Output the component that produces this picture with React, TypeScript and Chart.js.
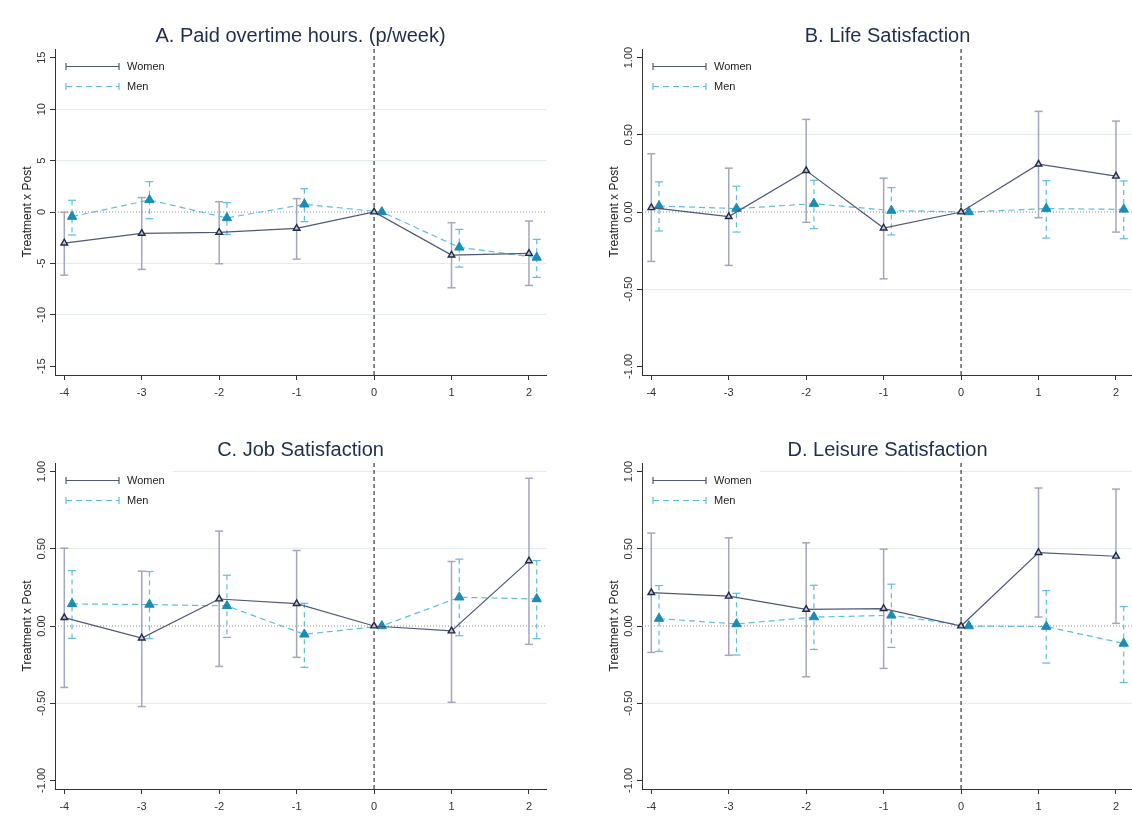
import React, { useEffect, useRef } from "react";
import { Chart, registerables } from "chart.js";

Chart.register(...registerables);

const FONT = '"Liberation Sans", Arial, Helvetica, sans-serif';

// ---- shared axis data ----
const periods = [-4, -3, -2, -1, 0, 1, 2];
const menOffset = 0.1;
const xMin = -4.12;
const xMax = 2.22;

const hoursTicks = [-15, -10, -5, 0, 5, 10, 15];
const satTicks = [-1, -0.5, 0, 0.5, 1];

// ---- Panel A: Paid overtime hours ----
const aWomenCoef = [-3.02, -2.08, -1.98, -1.59, 0, -4.19, -4.03];
const aWomenLo = [-6.14, -5.58, -5.03, -4.58, 0, -7.37, -7.14];
const aWomenHi = [-0.03, 1.4, 1.0, 1.3, 0, -1.04, -0.88];
const aMenCoef = [-0.45, 1.17, -0.58, 0.75, 0, -3.44, -4.42];
const aMenLo = [-2.24, -0.65, -2.18, -0.94, 0, -5.36, -6.36];
const aMenHi = [1.14, 2.95, 0.91, 2.27, 0, -1.69, -2.66];

// ---- Panel B: Life Satisfaction ----
const bWomenCoef = [0.028, -0.03, 0.268, -0.104, 0, 0.31, 0.232];
const bWomenLo = [-0.32, -0.346, -0.067, -0.433, 0, -0.037, -0.13];
const bWomenHi = [0.377, 0.284, 0.6, 0.219, 0, 0.652, 0.589];
const bMenCoef = [0.039, 0.022, 0.054, 0.009, 0, 0.022, 0.017];
const bMenLo = [-0.123, -0.13, -0.108, -0.149, 0, -0.169, -0.173];
const bMenHi = [0.195, 0.167, 0.206, 0.158, 0, 0.203, 0.201];

// ---- Panel C: Job Satisfaction ----
const cWomenCoef = [0.054, -0.078, 0.175, 0.145, 0, -0.032, 0.422];
const cWomenLo = [-0.398, -0.522, -0.262, -0.203, 0, -0.494, -0.119];
const cWomenHi = [0.504, 0.355, 0.615, 0.489, 0, 0.418, 0.957];
const cMenCoef = [0.143, 0.139, 0.13, -0.054, 0, 0.186, 0.175];
const cMenLo = [-0.08, -0.082, -0.074, -0.268, 0, -0.063, -0.082];
const cMenHi = [0.359, 0.353, 0.329, 0.147, 0, 0.433, 0.424];

// ---- Panel D: Leisure Satisfaction ----
const dWomenCoef = [0.216, 0.193, 0.108, 0.113, 0, 0.476, 0.452];
const dWomenLo = [-0.171, -0.19, -0.329, -0.275, 0, 0.058, 0.017];
const dWomenHi = [0.602, 0.571, 0.539, 0.498, 0, 0.894, 0.887];
const dMenCoef = [0.048, 0.013, 0.058, 0.069, 0, -0.004, -0.113];
const dMenLo = [-0.165, -0.188, -0.152, -0.139, 0, -0.24, -0.366];
const dMenHi = [0.262, 0.212, 0.264, 0.271, 0, 0.229, 0.126];

const WOMEN_LINE = "#4f5876";
const WOMEN_CI = "#a2a7ba";
const WOMEN_MARK_EDGE = "#1f2a4a";
const WOMEN_MARK_FILL = "#c3c7d6";
const MEN_LINE = "#5bbfdc";
const MEN_MARK = "#1a8cb6";

type Series = { coef: number[]; lo: number[]; hi: number[] };
type Spec = {
  title: string;
  yTicks: number[];
  yLim: number;
  gridTicks: number[];
  fmt: (v: number) => string;
  women: Series;
  men: Series;
  left: number;
  top: number;
  width: number;
  height: number;
  areaLeft: number;
  areaTop: number;
  areaRight: number;
  areaBottom: number;
};

const fmtInt = (v: number) => String(v);
const fmt2 = (v: number) => v.toFixed(2);

const panels: Spec[] = [
  {
    title: "A. Paid overtime hours. (p/week)",
    yTicks: hoursTicks,
    yLim: 15.85,
    gridTicks: [-10, -5, 5, 10],
    fmt: fmtInt,
    women: { coef: aWomenCoef, lo: aWomenLo, hi: aWomenHi },
    men: { coef: aMenCoef, lo: aMenLo, hi: aMenHi },
    left: 0, top: 0, width: 566, height: 411,
    areaLeft: 55, areaTop: 49, areaRight: 546, areaBottom: 375,
  },
  {
    title: "B. Life Satisfaction",
    yTicks: satTicks,
    yLim: 1.056,
    gridTicks: [-0.5, 0.5],
    fmt: fmt2,
    women: { coef: bWomenCoef, lo: bWomenLo, hi: bWomenHi },
    men: { coef: bMenCoef, lo: bMenLo, hi: bMenHi },
    left: 566, top: 0, width: 590, height: 411,
    areaLeft: 642, areaTop: 49, areaRight: 1133, areaBottom: 375,
  },
  {
    title: "C. Job Satisfaction",
    yTicks: satTicks,
    yLim: 1.056,
    gridTicks: [-0.5, 0.5, 1],
    fmt: fmt2,
    women: { coef: cWomenCoef, lo: cWomenLo, hi: cWomenHi },
    men: { coef: cMenCoef, lo: cMenLo, hi: cMenHi },
    left: 0, top: 411, width: 566, height: 411,
    areaLeft: 55, areaTop: 463, areaRight: 546, areaBottom: 789,
  },
  {
    title: "D. Leisure Satisfaction",
    yTicks: satTicks,
    yLim: 1.056,
    gridTicks: [-0.5, 0.5, 1],
    fmt: fmt2,
    women: { coef: dWomenCoef, lo: dWomenLo, hi: dWomenHi },
    men: { coef: dMenCoef, lo: dMenLo, hi: dMenHi },
    left: 566, top: 411, width: 590, height: 411,
    areaLeft: 642, areaTop: 463, areaRight: 1133, areaBottom: 789,
  },
];

function makeOverlay(spec: Spec) {
  const line = (ctx: CanvasRenderingContext2D, x1: number, y1: number, x2: number, y2: number) => {
    ctx.beginPath();
    ctx.moveTo(x1, y1);
    ctx.lineTo(x2, y2);
    ctx.stroke();
  };
  return {
    id: "overlay",
    beforeDatasetsDraw(chart: any) {
      const { ctx, chartArea: a, scales } = chart;
      const x = scales.x;
      const y = scales.y;
      ctx.save();
      // zero reference line (dotted)
      const y0 = y.getPixelForValue(0);
      ctx.strokeStyle = "#8c9096";
      ctx.lineWidth = 1;
      ctx.setLineDash([1, 2]);
      line(ctx, a.left, y0, a.right, y0);
      // vertical dashed line at event time
      const x0 = x.getPixelForValue(0);
      ctx.strokeStyle = "#3a3a3a";
      ctx.lineWidth = 1.2;
      ctx.setLineDash([4, 3]);
      line(ctx, x0, a.top, x0, a.bottom);

      const drawCI = (s: Series, off: number, color: string, dash: number[], w: number) => {
        ctx.strokeStyle = color;
        ctx.lineWidth = w;
        periods.forEach((p, i) => {
          if (s.lo[i] === s.hi[i]) return;
          const px = x.getPixelForValue(p + off);
          const yl = y.getPixelForValue(s.lo[i]);
          const yh = y.getPixelForValue(s.hi[i]);
          ctx.setLineDash(dash);
          line(ctx, px, yh, px, yl);
          ctx.setLineDash([]);
          line(ctx, px - 4, yh, px + 4, yh);
          line(ctx, px - 4, yl, px + 4, yl);
        });
      };
      drawCI(spec.women, 0, WOMEN_CI, [], 1.5);
      drawCI(spec.men, menOffset, MEN_LINE, [5, 4], 1.2);
      ctx.restore();
    },
    afterDatasetsDraw(chart: any) {
      const { ctx, chartArea: a, scales } = chart;
      const y = scales.y;
      ctx.save();
      // legend box
      ctx.fillStyle = "#ffffff";
      ctx.fillRect(a.left + 1, a.top + 3, 117, 44);
      const lx1 = a.left + 11;
      const lx2 = a.left + 64;
      const wy = a.top + 17.5;
      const my = a.top + 37.5;
      ctx.lineWidth = 1.2;
      ctx.strokeStyle = WOMEN_LINE;
      ctx.setLineDash([]);
      line(ctx, lx1, wy, lx2, wy);
      line(ctx, lx1, wy - 3.5, lx1, wy + 3.5);
      line(ctx, lx2, wy - 3.5, lx2, wy + 3.5);
      ctx.strokeStyle = MEN_LINE;
      ctx.setLineDash([6, 4]);
      line(ctx, lx1, my, lx2, my);
      ctx.setLineDash([]);
      line(ctx, lx1, my - 3.5, lx1, my + 3.5);
      line(ctx, lx2, my - 3.5, lx2, my + 3.5);
      ctx.fillStyle = "#222222";
      ctx.font = `11px ${FONT}`;
      ctx.textAlign = "left";
      ctx.textBaseline = "middle";
      ctx.fillText("Women", a.left + 72, wy);
      ctx.fillText("Men", a.left + 72, my);

      // title
      ctx.fillStyle = "#1f2d4f";
      ctx.font = `20px ${FONT}`;
      ctx.textAlign = "center";
      ctx.textBaseline = "middle";
      ctx.fillText(spec.title, (a.left + a.right) / 2, a.top - 13);

      // rotated y tick labels
      ctx.fillStyle = "#333333";
      ctx.font = `11px ${FONT}`;
      spec.yTicks.forEach((v) => {
        const py = y.getPixelForValue(v);
        ctx.save();
        ctx.translate(a.left - 13, py);
        ctx.rotate(-Math.PI / 2);
        ctx.textAlign = "center";
        ctx.textBaseline = "middle";
        ctx.fillText(spec.fmt(v), 0, 0);
        ctx.restore();
      });

      // y title
      ctx.fillStyle = "#222222";
      ctx.font = `12px ${FONT}`;
      ctx.save();
      ctx.translate(a.left - 27, (a.top + a.bottom) / 2);
      ctx.rotate(-Math.PI / 2);
      ctx.textAlign = "center";
      ctx.textBaseline = "middle";
      ctx.fillText("Treatment x Post", 0, 0);
      ctx.restore();
      ctx.restore();
    },
  };
}

function Panel({ spec }: { spec: Spec }) {
  const ref = useRef<HTMLCanvasElement | null>(null);
  useEffect(() => {
    if (!ref.current) return;
    const yWidth = spec.areaLeft - spec.left;
    const padTop = spec.areaTop - spec.top;
    const padRight = spec.left + spec.width - spec.areaRight;
    const xHeight = spec.top + spec.height - spec.areaBottom;
    const chart = new Chart(ref.current, {
      type: "line",
      data: {
        datasets: [
          {
            label: "Women",
            data: periods.map((p, i) => ({ x: p, y: spec.women.coef[i] })),
            borderColor: WOMEN_LINE,
            borderWidth: 1.2,
            pointStyle: "triangle",
            pointRadius: 3.8,
            pointBackgroundColor: WOMEN_MARK_FILL,
            pointBorderColor: WOMEN_MARK_EDGE,
            pointBorderWidth: 1.4,
            tension: 0,
            fill: false,
          },
          {
            label: "Men",
            data: periods.map((p, i) => ({ x: p + menOffset, y: spec.men.coef[i] })),
            borderColor: MEN_LINE,
            borderWidth: 1.2,
            borderDash: [6, 4],
            pointStyle: "triangle",
            pointRadius: 5.4,
            pointBackgroundColor: MEN_MARK,
            pointBorderColor: MEN_MARK,
            pointBorderWidth: 1,
            tension: 0,
            fill: false,
          },
        ],
      },
      options: {
        animation: false,
        responsive: false,
        devicePixelRatio: 1,
        events: [],
        layout: { padding: { left: 0, top: padTop, right: padRight, bottom: 0 } },
        plugins: {
          legend: { display: false },
          tooltip: { enabled: false },
          title: { display: false },
        },
        scales: {
          x: {
            type: "linear",
            min: xMin,
            max: xMax,
            afterBuildTicks: (s: any) => {
              s.ticks = periods.map((v) => ({ value: v }));
            },
            afterFit: (s: any) => {
              s.height = xHeight;
            },
            ticks: {
              color: "#333333",
              font: { family: FONT, size: 11 },
              padding: 6,
              maxRotation: 0,
              autoSkip: false,
              callback: (v: any) => String(v),
            },
            grid: {
              display: true,
              drawOnChartArea: false,
              drawTicks: true,
              tickLength: 5,
              tickColor: "#333333",
            },
            border: { display: true, color: "#333333", width: 1 },
          },
          y: {
            type: "linear",
            min: -spec.yLim,
            max: spec.yLim,
            afterBuildTicks: (s: any) => {
              s.ticks = spec.yTicks.map((v) => ({ value: v }));
            },
            afterFit: (s: any) => {
              s.width = yWidth;
            },
            ticks: {
              color: "rgba(0,0,0,0)",
              font: { family: FONT, size: 11 },
              autoSkip: false,
            },
            grid: {
              display: true,
              drawOnChartArea: true,
              drawTicks: true,
              tickLength: 5,
              tickColor: "#333333",
              lineWidth: 1,
              color: (c: any) =>
                c.tick && spec.gridTicks.some((g) => Math.abs(g - c.tick.value) < 1e-9)
                  ? "#e3ebee"
                  : "rgba(0,0,0,0)",
            },
            border: { display: true, color: "#333333", width: 1 },
          },
        },
      },
      plugins: [makeOverlay(spec)],
    } as any);
    return () => chart.destroy();
  }, [spec]);
  return (
    <canvas
      ref={ref}
      width={spec.width}
      height={spec.height}
      style={{
        position: "absolute",
        left: spec.left,
        top: spec.top,
        width: spec.width,
        height: spec.height,
      }}
    />
  );
}

export default function App() {
  return (
    <div
      style={{
        position: "absolute",
        left: 0,
        top: 0,
        width: 1132,
        height: 822,
        overflow: "hidden",
        background: "#ffffff",
      }}
    >
      {panels.map((p) => (
        <Panel key={p.title} spec={p} />
      ))}
    </div>
  );
}
